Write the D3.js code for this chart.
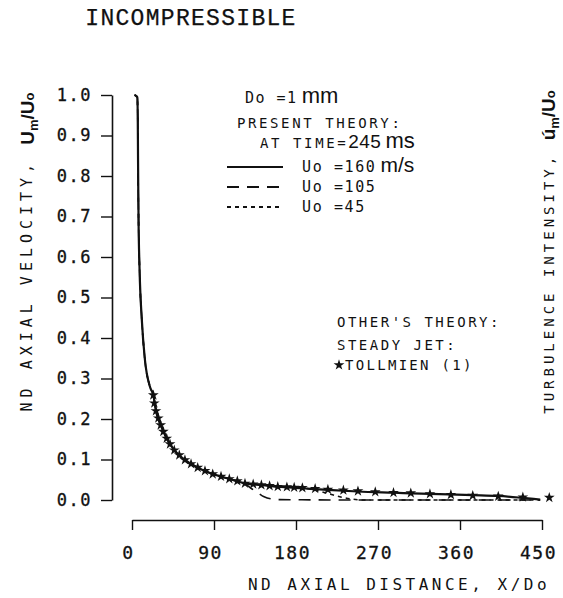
<!DOCTYPE html>
<html><head><meta charset="utf-8">
<script src="https://cdn.jsdelivr.net/npm/d3@7"></script>
<style>
body{margin:0;background:#fff;}
svg{display:block;}
.plot{font-family:"DejaVu Sans Mono",monospace;fill:#111;}
</style></head><body>
<svg id="chart" width="563" height="598"></svg>
<script>
// ---- data ----
const xTicks = [0, 90, 180, 270, 360, 450];
const yTicks = [0, 0.1, 0.2, 0.3, 0.4, 0.5, 0.6, 0.7, 0.8, 0.9, 1.0];

// Uo = 160 m/s (solid)
const x160 = [2.8, 5.8, 6.3, 6.6, 6.9, 7.2, 8.3, 10.8, 14, 19.8, 23.4, 26.3, 31.5, 38.1, 46.4, 58.1, 72.1, 88.6, 106.8, 124, 142, 160, 187, 215, 248, 287, 327, 374, 402, 425, 448];
const v160 = [1.0, 0.995, 0.95, 0.85, 0.76, 0.69, 0.57, 0.444, 0.35, 0.279, 0.259, 0.22, 0.185, 0.152, 0.123, 0.099, 0.080, 0.064, 0.052, 0.041, 0.037, 0.033, 0.029, 0.025, 0.021, 0.018, 0.015, 0.012, 0.010, 0.006, 0.001];
// Uo = 105 (long dash)
const x105 = [2.8, 5.8, 6.3, 6.6, 6.9, 7.2, 8.3, 10.8, 14, 19.8, 23.4, 26.3, 31.5, 38.1, 46.4, 58.1, 72.1, 88.6, 106.8, 115.6, 124, 130, 138, 145, 152, 162, 250, 350, 448];
const v105 = [1.0, 0.995, 0.95, 0.85, 0.76, 0.69, 0.57, 0.444, 0.35, 0.279, 0.259, 0.22, 0.185, 0.152, 0.123, 0.099, 0.080, 0.064, 0.052, 0.047, 0.040, 0.030, 0.018, 0.008, 0.003, 0.001, 0.0, 0.0, 0.0];
// Uo = 45 (short dash)
const x45 = [2.8, 5.8, 6.3, 6.6, 6.9, 7.2, 8.3, 10.8, 14, 19.8, 23.4, 26.3, 31.5, 38.1, 46.4, 58.1, 72.1, 88.6, 106.8, 124, 142, 160, 190, 205, 218, 230, 242, 255, 350, 448];
const v45 = [1.0, 0.995, 0.95, 0.85, 0.76, 0.69, 0.57, 0.444, 0.35, 0.279, 0.259, 0.22, 0.185, 0.152, 0.123, 0.099, 0.080, 0.064, 0.052, 0.041, 0.037, 0.033, 0.029, 0.022, 0.014, 0.007, 0.002, 0.0, 0.0, 0.0];
// Tollmien (steady jet) points
const xTol = [23.4, 24.5, 26.3, 28.9, 31.5, 34.4, 38.1, 41.7, 46.4, 51.9, 58.1, 64.8, 72.1, 80.1, 88.6, 97.7, 106.8, 115.6, 124, 133, 142, 151, 160, 170, 178, 187, 201, 215, 232, 248, 267, 287, 306, 327, 350, 374, 402, 429, 458];
const vTol = [0.259, 0.239, 0.220, 0.202, 0.185, 0.169, 0.152, 0.138, 0.123, 0.111, 0.099, 0.089, 0.080, 0.072, 0.064, 0.058, 0.052, 0.047, 0.041, 0.039, 0.037, 0.035, 0.033, 0.032, 0.031, 0.030, 0.028, 0.026, 0.024, 0.022, 0.020, 0.018, 0.017, 0.015, 0.013, 0.011, 0.009, 0.007, 0.006];

const seriesList = [
  {name: "Uo =160", xs: x160, vs: v160, dash: null},
  {name: "Uo =105", xs: x105, vs: v105, dash: "12,8"},
  {name: "Uo =45", xs: x45, vs: v45, dash: "4,4"}
];

// ---- chart ----
const svg = d3.select("#chart");
const g = svg.append("g").attr("class", "plot");
const x = d3.scaleLinear().domain([0, 450]).range([132, 542]);
const y = d3.scaleLinear().domain([0, 1]).range([500, 95]);
const sans = "Liberation Sans, sans-serif";

// title
svg.append("text").attr("x", 191).attr("y", 25).attr("text-anchor", "middle")
  .attr("font-family", "Liberation Mono, monospace").attr("font-size", 23)
  .attr("letter-spacing", 1.3).attr("fill", "#111").attr("stroke", "#111").attr("stroke-width", 0.25)
  .text("INCOMPRESSIBLE");

// y axis
const yAxis = g.append("g").attr("transform", "translate(112,0)")
  .call(d3.axisLeft(y).tickValues(yTicks).tickSize(11).tickSizeOuter(0).tickPadding(9).tickFormat(d3.format(".1f")));
yAxis.select(".domain").attr("stroke", "#111").attr("stroke-width", 1.6);
yAxis.selectAll(".tick line").attr("stroke", "#111").attr("stroke-width", 1.4);
yAxis.selectAll(".tick text").attr("font-family", "DejaVu Sans Mono, monospace").attr("font-size", 17)
  .attr("letter-spacing", 1.5).attr("fill", "#111").attr("stroke", "#111").attr("stroke-width", 0.3);

// x axis
const xAxis = g.append("g").attr("transform", "translate(0,520)")
  .call(d3.axisBottom(x).tickValues(xTicks).tickSize(10).tickSizeOuter(0).tickPadding(16).tickFormat(d3.format("d")));
xAxis.select(".domain").attr("stroke", "#111").attr("stroke-width", 1.6);
xAxis.selectAll(".tick line").attr("stroke", "#111").attr("stroke-width", 1.4);
xAxis.selectAll(".tick text").attr("font-family", "DejaVu Sans Mono, monospace").attr("font-size", 18)
  .attr("letter-spacing", 1.5).attr("dx", -4).attr("fill", "#111").attr("stroke", "#111").attr("stroke-width", 0.3);

// axis titles
g.append("text").attr("x", 399).attr("y", 590).attr("text-anchor", "middle")
  .attr("font-size", 16).attr("letter-spacing", 3.5).text("ND AXIAL DISTANCE, X/Do");

const yt = g.append("text").attr("transform", "translate(33,252) rotate(-90)").attr("text-anchor", "middle");
yt.append("tspan").attr("font-size", 15).attr("letter-spacing", 5).attr("dy", -1).text("ND AXIAL VELOCITY, ");
yt.append("tspan").attr("font-family", sans).attr("font-weight", "bold").attr("font-size", 19).attr("dy", 2).text("U");
yt.append("tspan").attr("font-family", sans).attr("font-weight", "bold").attr("font-size", 13).attr("dy", 4).text("m");
yt.append("tspan").attr("font-family", sans).attr("font-weight", "bold").attr("font-size", 19).attr("dy", -4).text("/U");
yt.append("tspan").attr("font-family", sans).attr("font-weight", "bold").attr("font-size", 13).text("o");

const rt = g.append("text").attr("transform", "translate(554,252) rotate(-90)").attr("text-anchor", "middle");
rt.append("tspan").attr("font-size", 14).attr("letter-spacing", 4).text("TURBULENCE INTENSITY, ");
rt.append("tspan").attr("font-family", sans).attr("font-weight", "bold").attr("font-size", 19).attr("dy", 1).text("u\u0301");
rt.append("tspan").attr("font-family", sans).attr("font-weight", "bold").attr("font-size", 13).attr("dy", 4).text("m");
rt.append("tspan").attr("font-family", sans).attr("font-weight", "bold").attr("font-size", 19).attr("dy", -4).text("/U");
rt.append("tspan").attr("font-family", sans).attr("font-weight", "bold").attr("font-size", 13).text("o");

// curves
const line = d3.line().x(d => x(d[0])).y(d => y(d[1])).curve(d3.curveMonotoneX);
seriesList.forEach(s => {
  const pts = s.xs.map((xv, i) => [xv, s.vs[i]]);
  g.append("path").datum(pts).attr("d", line).attr("fill", "none")
    .attr("stroke", "#111").attr("stroke-width", s.dash ? 1.6 : 2.2)
    .attr("stroke-dasharray", s.dash);
});

// Tollmien markers
const star = d3.symbol().type(d3.symbolStar).size(36);
g.selectAll("path.tol").data(xTol.map((xv, i) => [xv, vTol[i]])).join("path")
  .attr("class", "tol").attr("d", star)
  .attr("transform", d => `translate(${x(d[0])},${y(d[1])})`).attr("fill", "#111");

// legend
const l1 = g.append("text").attr("x", 245).attr("y", 103).attr("font-size", 15).attr("letter-spacing", 1.5);
l1.append("tspan").text("Do =1");
l1.append("tspan").attr("font-family", sans).attr("font-size", 22).attr("letter-spacing", 0).attr("dx", 4).text("mm");
g.append("text").attr("x", 237).attr("y", 128).attr("font-size", 14).attr("letter-spacing", 2.6).text("PRESENT THEORY:");
const l3 = g.append("text").attr("x", 260).attr("y", 148).attr("font-size", 14).attr("letter-spacing", 2.6);
l3.append("tspan").text("AT TIME=");
l3.append("tspan").attr("font-family", sans).attr("font-size", 19).attr("letter-spacing", 0.5).text("245");
l3.append("tspan").attr("font-family", sans).attr("font-size", 22).attr("letter-spacing", 0).attr("dx", 4).text("ms");

seriesList.forEach((s, i) => {
  const ly = 167 + i * 20;
  g.append("line").attr("x1", 227).attr("x2", 283).attr("y1", ly).attr("y2", ly)
    .attr("stroke", "#111").attr("stroke-width", 1.8).attr("stroke-dasharray", s.dash);
  const t = g.append("text").attr("x", 302).attr("y", ly + 5).attr("font-size", 15).attr("letter-spacing", 1.6);
  t.append("tspan").text(s.name);
  if (i === 0) t.append("tspan").attr("font-family", sans).attr("font-size", 21).attr("letter-spacing", 0).attr("dx", 4).text("m/s");
});

g.append("text").attr("x", 337).attr("y", 327).attr("font-size", 14).attr("letter-spacing", 2.5).text("OTHER'S THEORY:");
g.append("text").attr("x", 337).attr("y", 350).attr("font-size", 14).attr("letter-spacing", 2.5).text("STEADY JET:");
g.append("path").attr("d", star).attr("transform", "translate(339,365)").attr("fill", "#111");
g.append("text").attr("x", 345).attr("y", 370).attr("font-size", 14).attr("letter-spacing", 2.3).text("TOLLMIEN (1)");
</script>
</body></html>
